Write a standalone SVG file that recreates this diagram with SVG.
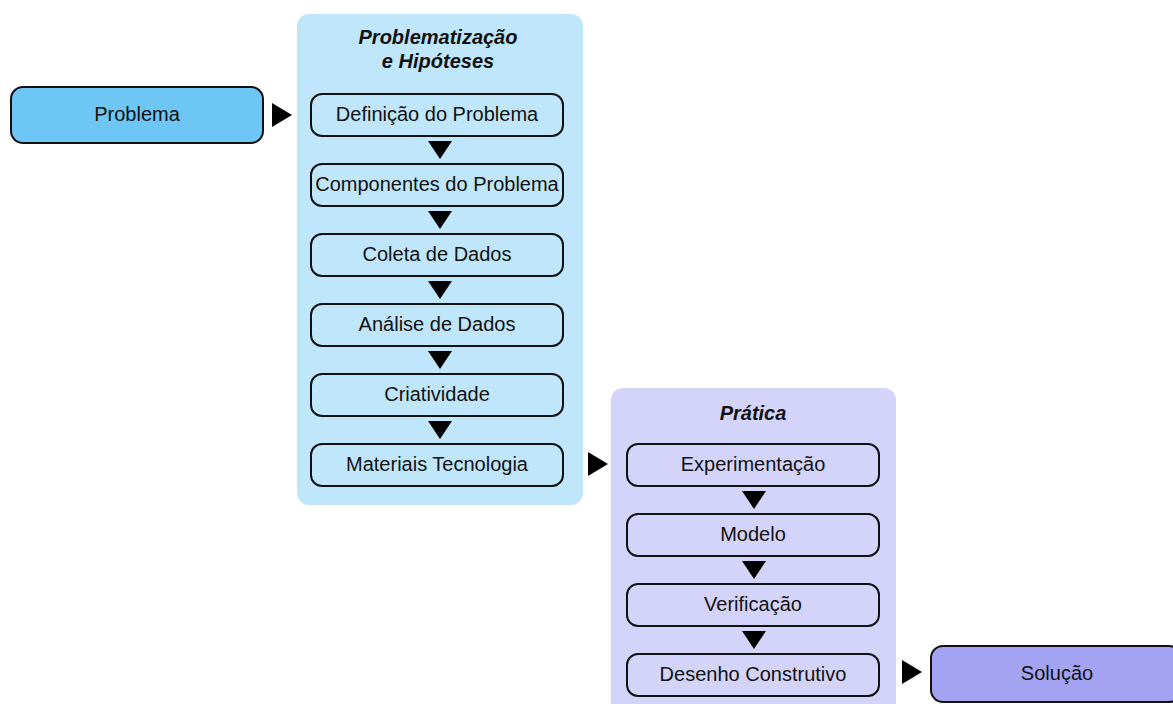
<svg xmlns="http://www.w3.org/2000/svg" width="1173" height="704" viewBox="0 0 1173 704">
<defs>
<style>
.t{font-family:"Liberation Sans",Arial,sans-serif;font-size:20px;fill:#111;text-anchor:middle}
.h{font-family:"Liberation Sans",Arial,sans-serif;font-size:20px;font-weight:bold;font-style:italic;fill:#111;text-anchor:middle}
.b1{fill:#bfe6fb;stroke:#111;stroke-width:2}
.b2{fill:#d4d4fa;stroke:#111;stroke-width:2}
.tri{fill:#000}
</style>
</defs>
<rect width="1173" height="704" fill="#fff"/>
<g id="group-problematizacao">
<rect x="297" y="14" width="286" height="491" rx="12" fill="#bfe6fb"/>
<text class="h" x="438" y="44">Problematização</text>
<text class="h" x="438" y="68">e Hipóteses</text>
</g>
<g id="group-pratica">
<rect x="611" y="388" width="285" height="330" rx="12" fill="#d4d4fa"/>
<text class="h" x="753" y="420">Prática</text>
</g>
<g id="problema"><rect x="11" y="87" width="252" height="56" rx="12" fill="#6ec6f5" stroke="#111" stroke-width="2"/><text class="t" x="137" y="121">Problema</text></g>
<g id="definicao"><rect class="b1" x="311" y="94" width="252" height="42" rx="11"/><text class="t" x="437" y="121">Definição do Problema</text></g>
<g id="componentes"><rect class="b1" x="311" y="164" width="252" height="42" rx="11"/><text class="t" x="437" y="191">Componentes do Problema</text></g>
<g id="coleta"><rect class="b1" x="311" y="234" width="252" height="42" rx="11"/><text class="t" x="437" y="261">Coleta de Dados</text></g>
<g id="analise"><rect class="b1" x="311" y="304" width="252" height="42" rx="11"/><text class="t" x="437" y="331">Análise de Dados</text></g>
<g id="criatividade"><rect class="b1" x="311" y="374" width="252" height="42" rx="11"/><text class="t" x="437" y="401">Criatividade</text></g>
<g id="materiais"><rect class="b1" x="311" y="444" width="252" height="42" rx="11"/><text class="t" x="437" y="471">Materiais Tecnologia</text></g>
<g id="experimentacao"><rect class="b2" x="627" y="444" width="252" height="42" rx="11"/><text class="t" x="753" y="471">Experimentação</text></g>
<g id="modelo"><rect class="b2" x="627" y="514" width="252" height="42" rx="11"/><text class="t" x="753" y="541">Modelo</text></g>
<g id="verificacao"><rect class="b2" x="627" y="584" width="252" height="42" rx="11"/><text class="t" x="753" y="611">Verificação</text></g>
<g id="desenho"><rect class="b2" x="627" y="654" width="252" height="42" rx="11"/><text class="t" x="753" y="681">Desenho Construtivo</text></g>
<g id="solucao"><rect x="931" y="646" width="250" height="56" rx="12" fill="#a3a3f2" stroke="#111" stroke-width="2"/><text class="t" x="1057" y="680">Solução</text></g>
<g id="connectors">
<polygon class="tri" points="272,103 292,115 272,127"/>
<polygon class="tri" points="588,452 608,464 588,476"/>
<polygon class="tri" points="902,660 922,672 902,684"/>
<polygon class="tri" points="428,141 452,141 440,159"/>
<polygon class="tri" points="428,211 452,211 440,229"/>
<polygon class="tri" points="428,281 452,281 440,299"/>
<polygon class="tri" points="428,351 452,351 440,369"/>
<polygon class="tri" points="428,421 452,421 440,439"/>
<polygon class="tri" points="742,491 766,491 754,509"/>
<polygon class="tri" points="742,561 766,561 754,579"/>
<polygon class="tri" points="742,631 766,631 754,649"/>
</g>
</svg>
